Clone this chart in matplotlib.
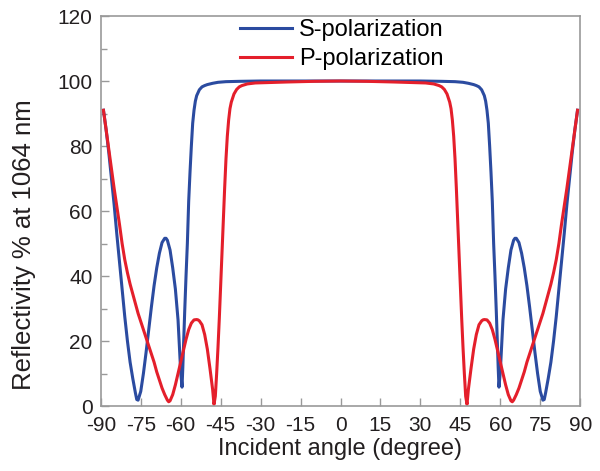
import matplotlib.pyplot as plt
from matplotlib.ticker import MultipleLocator

plt.rcParams['font.family'] = ['Liberation Sans', 'DejaVu Sans']
plt.rcParams['axes.unicode_minus'] = False

# S-polarization
s_angle = [-89, -88, -87, -86, -85, -84, -83, -82, -81, -80, -79, -78, -77, -76.5, -76, -75,
           -74, -73, -72, -71, -70, -69, -68, -67, -66, -65.5, -65, -64, -63, -62, -61, -60,
           -59.5, -59.2, -59, -58.5, -58, -57.5, -57, -56.5, -56, -55.5, -55, -54.5, -54, -53,
           -52, -51, -50, -48, -46, -43, -38, -30, -15, 0,
           15, 30, 38, 43, 46, 48, 50, 51, 52, 53, 54, 54.5, 55, 55.5, 56, 56.5, 57, 57.5,
           58, 58.5, 59, 59.2, 59.5, 60, 61, 62, 63, 64, 65, 65.5, 66, 67, 68, 69, 70,
           71, 72, 73, 74, 75, 76, 76.5, 77, 78, 79, 80, 81, 82, 83, 84, 85, 86, 87, 88, 89]
s_refl = [91, 85, 78, 70, 62, 53, 44.5, 36, 27.5, 20, 13.5, 8.5, 4, 2, 1.8, 4.5,
          10, 16.5, 23.5, 30.5, 37, 42.5, 47, 50.3, 51.6, 51.6, 51, 48, 42.5, 36, 26.5, 10.5,
          5.8, 12, 17, 29, 40, 50, 63, 72, 80, 87, 91, 93.8, 95.5, 97.3,
          98.2, 98.6, 98.9, 99.3, 99.6, 99.8, 99.9, 100, 100, 100,
          100, 100, 99.9, 99.8, 99.6, 99.3, 98.9, 98.6, 98.2, 97.3, 95.5, 93.8, 91, 87, 80, 72, 63, 50,
          40, 29, 17, 12, 5.8, 10.5, 26.5, 36, 42.5, 48, 51, 51.6, 51.6, 50.3, 47, 42.5, 37,
          30.5, 23.5, 16.5, 10, 4.5, 1.8, 2, 4, 8.5, 13.5, 20, 27.5, 36, 44.5, 53, 62, 70, 78, 85, 91]

# P-polarization
p_angle = [-89, -88, -87, -86, -85, -84, -83, -82, -81, -80, -79, -78, -77, -76, -75, -74,
           -73, -72, -71, -70, -69, -68, -67, -66, -65, -64.5, -64, -63, -62, -61, -60, -59,
           -58, -57, -56, -55, -54, -53.5, -53, -52, -51, -50, -49, -48, -47.5, -47, -46.5,
           -46, -45.5, -45, -44.5, -44, -43.5, -43, -42.5, -42, -41.5, -41, -40, -39, -38,
           -37, -35, -32, -28, -20, -10, 0,
           10, 20, 28, 32, 35, 37, 38, 39, 40, 41, 41.5, 42, 42.5, 43, 43.5, 44, 44.5, 45,
           45.5, 46, 46.5, 47, 47.5, 48, 49, 50, 51, 52, 53, 53.5, 54, 55, 56, 57, 58, 59,
           60, 61, 62, 63, 64, 64.5, 65, 66, 67, 68, 69, 70, 71, 72, 73, 74, 75, 76, 77,
           78, 79, 80, 81, 82, 83, 84, 85, 86, 87, 88, 89]
p_refl = [91, 85, 79, 73, 67, 61.5, 56, 50, 45, 41, 37.5, 34.5, 31.5, 28.5, 26, 23.5,
          21, 18.5, 16, 13.5, 10.5, 8, 5.5, 3.5, 1.8, 1.3, 1.6, 3.5, 6.5, 10, 13.5, 17,
          20.5, 23.5, 25.5, 26.5, 26.6, 26.5, 26.2, 25, 22, 17.5, 11.5, 5, 0.5, 3, 10,
          18, 27, 37, 47, 57, 67, 76, 83, 88, 91.5, 93.5, 96, 97.4, 98.2,
          98.6, 99.1, 99.4, 99.5, 99.7, 99.9, 100,
          99.9, 99.7, 99.5, 99.4, 99.1, 98.6, 98.2, 97.4, 96, 93.5, 91.5, 88, 83, 76, 67, 57, 47, 37,
          27, 18, 10, 3, 0.5, 5, 11.5, 17.5, 22, 25, 26.2, 26.5, 26.6, 26.5, 25.5, 23.5, 20.5, 17,
          13.5, 10, 6.5, 3.5, 1.6, 1.3, 1.8, 3.5, 5.5, 8, 10.5, 13.5, 16, 18.5, 21, 23.5, 26, 28.5, 31.5,
          34.5, 37.5, 41, 45, 50, 56, 61.5, 67, 73, 79, 85, 91]

x_ticks = list(range(-90, 91, 15))

fig = plt.figure(figsize=(6, 4.71), dpi=100)
ax = fig.add_axes([0.168, 0.138, 0.799, 0.828])

ax.plot(s_angle, s_refl, color='#2b4ba0', lw=2.2, label='S-polarization')
ax.plot(p_angle, p_refl, color='#e41f2b', lw=2.2, label='P-polarization')

ax.set_xlim(-90, 90)
ax.set_ylim(0, 120)
ax.set_xticks(x_ticks)
ax.yaxis.set_major_locator(MultipleLocator(20))
ax.yaxis.set_minor_locator(MultipleLocator(10))
ax.tick_params(which='both', direction='in', color='#999999', labelsize=15,
               labelcolor='#231f20')
ax.tick_params(which='major', length=6, width=1)
ax.tick_params(which='minor', length=4, width=1)
ax.tick_params(axis='y', pad=6)
ax.tick_params(axis='x', pad=7)
for sp in ax.spines.values():
    sp.set_color('#999999')
    sp.set_linewidth(1.2)

ax.set_xlabel('Incident angle (degree)', fontsize=17, color='#231f20', labelpad=2)
ax.set_ylabel('Reflectivity % at 1064 nm', fontsize=18.5, color='#231f20', labelpad=14)
ax.yaxis.set_label_coords(-0.135, 0.415)

ax.legend(loc='upper left', bbox_to_anchor=(0.265, 1.023), frameon=False, fontsize=17,
          handlelength=2.2, handletextpad=0.3, labelspacing=0.3, borderaxespad=0.1)

fig.savefig('out.png', dpi=100)
